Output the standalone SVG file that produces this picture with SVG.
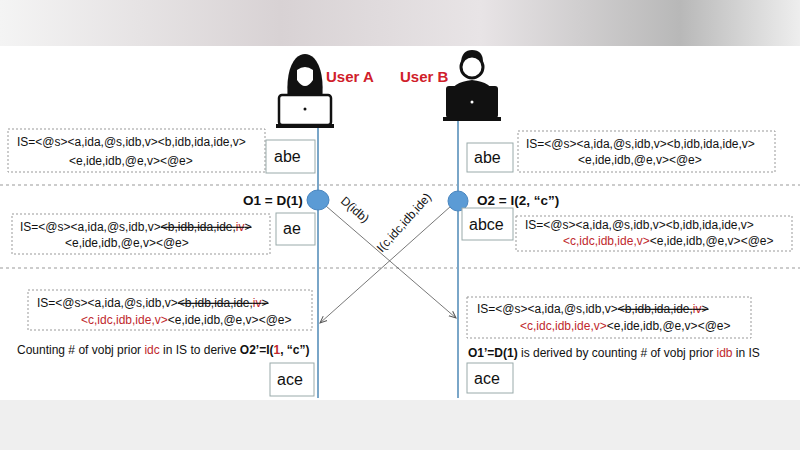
<svg xmlns="http://www.w3.org/2000/svg" width="800" height="450" viewBox="0 0 800 450">
<defs>
<linearGradient id="top" x1="0" x2="1" y1="0" y2="0">
<stop offset="0" stop-color="#f4f4f4"/><stop offset="0.35" stop-color="#d8d2d4"/><stop offset="0.6" stop-color="#e8e4e6"/><stop offset="0.85" stop-color="#b8b8b8"/><stop offset="1" stop-color="#eeeeee"/>
</linearGradient>
<marker id="arr" markerWidth="8" markerHeight="8" refX="7" refY="4" orient="auto" markerUnits="userSpaceOnUse"><path d="M0,1 L7,4 L0,7" fill="none" stroke="#555" stroke-width="1"/></marker>
<style>
text{font-family:"Liberation Sans",Arial,sans-serif;fill:#111}
.is{font-size:12px}
.lbl{font-size:16px}
.b{font-weight:bold}
.red{fill:#c0282d}
.st{text-decoration:line-through}
.dash{fill:#fff;stroke:#999;stroke-width:1;stroke-dasharray:2,2}
.box{fill:#fff;stroke:#9aa;stroke-width:1}
.sep{stroke:#999;stroke-width:1;stroke-dasharray:3,3}
.life{stroke:#7aa6c8;stroke-width:2}
.conn{stroke:#555;stroke-width:0.8;fill:none}
.user{font-size:15px;font-weight:bold;fill:#d0202a}
</style>
</defs>
<rect width="800" height="450" fill="#fff"/>
<rect width="800" height="46" fill="url(#top)"/>
<rect y="400" width="800" height="50" fill="#efefef"/>
<line class="sep" x1="0" y1="185" x2="800" y2="185"/>
<line class="sep" x1="0" y1="268" x2="800" y2="268"/>
<line class="life" x1="318" y1="126" x2="318" y2="398"/>
<line class="life" x1="458" y1="118" x2="458" y2="398"/>

<g id="userA">
<path d="M288,102 Q285,70 296,58 Q305,50 314,58 Q325,70 322,102 Z" fill="#111"/>
<path d="M297,70 Q305,64 313,70 L313,80 Q305,92 297,80 Z" fill="#fff"/>
<path d="M284,112 Q290,96 305,94 Q320,96 326,112 Z" fill="#111"/>
<rect x="279" y="95" width="52" height="30" rx="3" fill="#fff" stroke="#111" stroke-width="2.5"/>
<circle cx="305" cy="109" r="1.5" fill="#111"/>
<rect x="276" y="124" width="58" height="4" fill="#111"/>
<text class="user" x="326" y="82">User A</text>
</g>
<g id="userB">
<circle cx="472" cy="67" r="11" fill="#fff" stroke="#111" stroke-width="3"/>
<path d="M461,62 Q462,50 472,50 Q483,50 483,62 Q478,56 472,57 Q465,56 461,62 Z" fill="#111"/>
<path d="M449,95 Q452,82 472,80 Q492,82 495,95 Z" fill="#111"/>
<rect x="446" y="86" width="52" height="32" rx="3" fill="#111"/>
<circle cx="472" cy="102" r="1.5" fill="#fff"/>
<rect x="443" y="117" width="58" height="4" fill="#111"/>
<text class="user" x="400" y="82">User B</text>
</g>

<g id="connectors">
<line class="conn" x1="326" y1="206" x2="456" y2="318" marker-end="url(#arr)"/>
<line class="conn" x1="451" y1="206" x2="320" y2="323" marker-end="url(#arr)"/>
<text class="is" transform="translate(340,202) rotate(41)">D(idb)</text>
<text class="is" transform="translate(382,253) rotate(-48)">I(c,idc,idb,ide)</text>
</g>

<g id="op1">
<ellipse cx="318" cy="200" rx="11" ry="10" fill="#5b9bd5" stroke="#4a86bf"/>
<text class="b" x="243" y="205" font-size="13.5">O1 = D(1)</text>
</g>
<g id="op2">
<ellipse cx="458" cy="201" rx="10" ry="10" fill="#5b9bd5" stroke="#4a86bf"/>
<text class="b" x="477" y="205" font-size="13.5">O2 = I(2, “c”)</text>
</g>

<g id="isA1">
<rect class="dash" x="8" y="129" width="257" height="43"/>
<text class="is" x="17" y="146">IS=&lt;@s&gt;&lt;a,ida,@s,idb,v&gt;&lt;b,idb,ida,ide,v&gt;</text>
<text class="is" x="69" y="165">&lt;e,ide,idb,@e,v&gt;&lt;@e&gt;</text>
</g>
<g id="stA1"><rect class="box" x="266" y="140" width="49" height="33"/><text class="lbl" x="274" y="162">abe</text></g>

<g id="isB1">
<rect class="dash" x="518" y="131" width="257" height="41"/>
<text class="is" x="526" y="148">IS=&lt;@s&gt;&lt;a,ida,@s,idb,v&gt;&lt;b,idb,ida,ide,v&gt;</text>
<text class="is" x="578" y="164">&lt;e,ide,idb,@e,v&gt;&lt;@e&gt;</text>
</g>
<g id="stB1"><rect class="box" x="467" y="143" width="46" height="29"/><text class="lbl" x="474" y="163">abe</text></g>

<g id="isA2">
<rect class="dash" x="12" y="214" width="258" height="40"/>
<text class="is" x="20" y="231">IS=&lt;@s&gt;&lt;a,ida,@s,idb,v&gt;<tspan class="st">&lt;b,idb,ida,ide,<tspan class="red">iv</tspan>&gt;</tspan></text>
<text class="is" x="65" y="247">&lt;e,ide,idb,@e,v&gt;&lt;@e&gt;</text>
</g>
<g id="stA2"><rect class="box" x="276" y="213" width="39" height="32"/><text class="lbl" x="283" y="234">ae</text></g>

<g id="stB2"><rect class="box" x="462" y="208" width="51" height="32"/><text class="lbl" x="469" y="230">abce</text></g>
<g id="isB2">
<rect class="dash" x="516" y="216" width="276" height="35"/>
<text class="is" x="525" y="229">IS=&lt;@s&gt;&lt;a,ida,@s,idb,v&gt;&lt;b,idb,ida,ide,v&gt;</text>
<text class="is" x="563" y="245"><tspan class="red">&lt;c,idc,idb,ide,v&gt;</tspan>&lt;e,ide,idb,@e,v&gt;&lt;@e&gt;</text>
</g>

<g id="isA3">
<rect class="dash" x="28" y="290" width="284" height="40"/>
<text class="is" x="37" y="307">IS=&lt;@s&gt;&lt;a,ida,@s,idb,v&gt;<tspan class="st">&lt;b,idb,ida,ide,<tspan class="red">iv</tspan>&gt;</tspan></text>
<text class="is" x="81" y="324"><tspan class="red">&lt;c,idc,idb,ide,v&gt;</tspan>&lt;e,ide,idb,@e,v&gt;&lt;@e&gt;</text>
</g>
<text x="17" y="354" font-size="12">Counting # of vobj prior <tspan class="red">idc</tspan> in IS to derive <tspan class="b">O2’=I(<tspan class="red">1</tspan>, “c”)</tspan></text>
<g id="stA3"><rect class="box" x="270" y="363" width="44" height="33"/><text class="lbl" x="277" y="385">ace</text></g>

<g id="isB3">
<rect class="dash" x="467" y="297" width="284" height="41"/>
<text class="is" x="477" y="313">IS=&lt;@s&gt;&lt;a,ida,@s,idb,v&gt;<tspan class="st">&lt;b,idb,ida,ide,<tspan class="red">iv</tspan>&gt;</tspan></text>
<text class="is" x="520" y="330"><tspan class="red">&lt;c,idc,idb,ide,v&gt;</tspan>&lt;e,ide,idb,@e,v&gt;&lt;@e&gt;</text>
</g>
<text x="468" y="357" font-size="12"><tspan class="b">O1’=D(1)</tspan> is derived by counting # of vobj prior <tspan class="red">idb</tspan> in IS</text>
<g id="stB3"><rect class="box" x="467" y="363" width="46" height="30"/><text class="lbl" x="474" y="384">ace</text></g>
</svg>
